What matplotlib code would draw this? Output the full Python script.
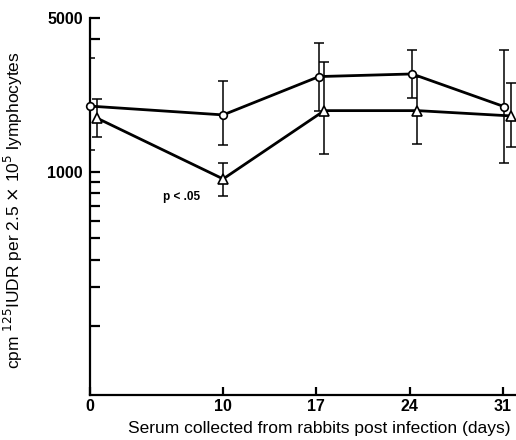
import matplotlib
matplotlib.use("Agg")
import matplotlib.pyplot as plt
from matplotlib.ticker import FixedLocator, NullFormatter, FixedFormatter

# days after infection (triangles drawn slightly to the right, as in the print)
days = [0, 10, 17, 24, 31]
x_circ = [0, 10, 17.2, 24.2, 31.1]
x_tri = [0.5, 10, 17.6, 24.6, 31.6]

circ_y = [1990, 1815, 2710, 2785, 1980]
circ_lo = [1258, 1326, 1898, 2160, 1095]
circ_hi = [3290, 2588, 3864, 3580, 3580]

tri_y = [1758, 929, 1898, 1898, 1796]
tri_lo = [1442, 778, 1203, 1336, 1303]
tri_hi = [2145, 1099, 3147, 2708, 2527]

y_major = [1000, 5000]
y_minor = [200, 300, 400, 500, 600, 700, 800, 900, 4000]

plt.rcParams['font.family'] = ['Liberation Sans', 'DejaVu Sans']

fig = plt.figure(figsize=(5.16, 4.4), dpi=100)
ax = fig.add_axes([90 / 516, 45 / 440, 426 / 516, 377 / 440])

def err(y, lo, hi):
    return [[a - b for a, b in zip(y, lo)], [c - a for a, c in zip(y, hi)]]

ax.errorbar(x_circ, circ_y, yerr=err(circ_y, circ_lo, circ_hi), fmt='none',
            ecolor='black', elinewidth=1.1, capsize=3.5, capthick=1.1, zorder=2)
ax.errorbar(x_tri, tri_y, yerr=err(tri_y, tri_lo, tri_hi), fmt='none',
            ecolor='black', elinewidth=1.1, capsize=3.5, capthick=1.1, zorder=2)
ax.plot(x_circ, circ_y, color='black', lw=2, marker='o', ms=5.5,
        mfc='white', mec='black', mew=1.2, zorder=3, clip_on=False)
ax.plot(x_tri, tri_y, color='black', lw=2, marker='^', ms=7,
        mfc='white', mec='black', mew=1.2, zorder=3, clip_on=False)

ax.set_yscale('log')
ax.set_ylim(97, 5000)
ax.set_xlim(0, 32)

ax.yaxis.set_major_locator(FixedLocator(y_major))
ax.yaxis.set_major_formatter(FixedFormatter([str(v) for v in y_major]))
ax.yaxis.set_minor_locator(FixedLocator(y_minor))
ax.yaxis.set_minor_formatter(NullFormatter())
ax.set_xticks(days)

for s in ['top', 'right']:
    ax.spines[s].set_visible(False)
for s in ['left', 'bottom']:
    ax.spines[s].set_linewidth(1.6)

ax.tick_params(axis='both', which='both', direction='in', width=1.6, color='black')
ax.tick_params(axis='y', which='major', length=7, pad=5)
ax.tick_params(axis='y', which='minor', length=7)
ax.tick_params(axis='x', which='major', length=6, pad=3)
for lab in ax.get_xticklabels() + ax.get_yticklabels():
    lab.set_fontsize(11.5)
    lab.set_fontweight('bold')

ax.set_xlabel('Serum collected from rabbits post infection (days)', fontsize=12.5, labelpad=1)
ax.xaxis.set_label_coords(0.538, -0.07)
ax.set_ylabel(r'cpm $^{125}$IUDR per 2.5 $\times$ 10$^5$ lymphocytes', fontsize=12.5)
ax.yaxis.set_label_coords(-0.153, 0.49)

ax.text(5.5, 770, 'p < .05', fontsize=8.5, fontweight='bold', ha='left', va='center')

fig.savefig('out.png', dpi=100)
